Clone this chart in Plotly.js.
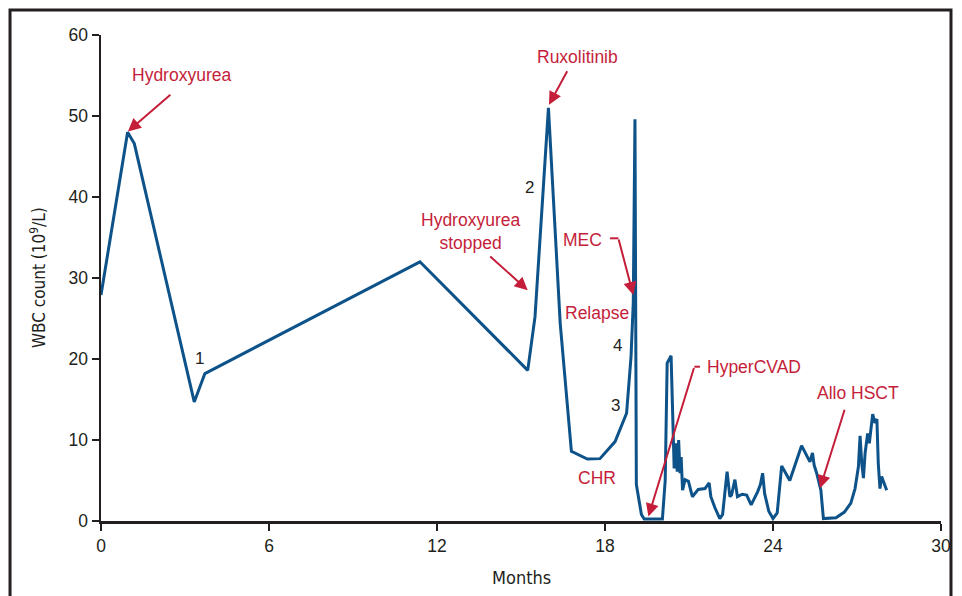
<!DOCTYPE html>
<html>
<head>
<meta charset="utf-8">
<script src="https://cdn.plot.ly/plotly-3.0.1.min.js"></script>
<style>html,body{margin:0;padding:0;background:#fff;}#chart{width:962px;height:596px;}</style>
</head>
<body>
<div id="chart"></div>
<script>
// Months since diagnosis
const months = [0, 0.95, 1.19, 3.33, 3.71, 11.39, 15.24, 15.5, 15.98, 16.4, 16.8, 17.37, 17.82, 18.36, 18.77, 18.93, 19.01, 19.07, 19.12, 19.2, 19.3, 19.4, 20.05, 20.15, 20.22, 20.36, 20.42, 20.47, 20.53, 20.58, 20.63, 20.68, 20.72, 20.77, 20.86, 20.98, 21.12, 21.33, 21.57, 21.72, 21.78, 21.93, 22.1, 22.2, 22.36, 22.46, 22.52, 22.64, 22.73, 22.9, 23.06, 23.22, 23.45, 23.55, 23.63, 23.7, 23.85, 24.0, 24.15, 24.31, 24.6, 25.02, 25.32, 25.41, 25.47, 25.56, 25.71, 25.8, 26.25, 26.55, 26.78, 26.93, 27.05, 27.11, 27.17, 27.23, 27.29, 27.38, 27.44, 27.56, 27.64, 27.71, 27.76, 27.82, 27.88, 28.06];
// WBC count (10^9/L)
const wbc = [27.9, 48.0, 46.6, 14.7, 18.2, 32.0, 18.6, 25.2, 51.0, 24.4, 8.6, 7.65, 7.7, 9.8, 13.3, 20.3, 27.0, 49.6, 4.5, 2.6, 0.8, 0.25, 0.25, 5.0, 19.5, 20.4, 12.0, 6.5, 9.6, 6.1, 10.0, 5.9, 7.9, 3.8, 5.1, 4.9, 3.0, 3.9, 4.0, 4.7, 3.0, 1.6, 0.3, 0.8, 6.1, 3.0, 3.2, 5.1, 3.0, 3.3, 3.2, 2.0, 3.6, 4.5, 5.9, 3.4, 1.2, 0.3, 1.0, 6.8, 5.0, 9.3, 7.3, 8.4, 6.9, 5.9, 3.8, 0.3, 0.4, 1.1, 2.2, 4.0, 6.7, 10.5, 7.1, 5.3, 8.4, 10.8, 9.6, 13.2, 12.1, 12.6, 7.1, 4.0, 5.5, 3.8];

const xTicks = [0, 6, 12, 18, 24, 30];
const yTicks = [0, 10, 20, 30, 40, 50, 60];

// Event labels (red)
const eventLabels = ['Hydroxyurea', 'Ruxolitinib', 'Hydroxyurea<br>stopped', 'MEC', 'Relapse', 'CHR', 'HyperCVAD', 'Allo HSCT'];
const eventX = [2.89, 17.0, 13.18, 17.21, 17.71, 17.71, 23.32, 27.04];
const eventY = [55.1, 57.3, 35.8, 34.7, 25.7, 5.3, 19.0, 15.8];
// Arrow tips for events with arrows
const arrowTipX = [0.96, 16.0, 15.24, 19.01, 19.55, 25.68];
const arrowTipY = [48.1, 51.4, 28.5, 27.9, 0.55, 4.04];
const arrowTailDX = [44, 19, -39, -15, 46, 25];
const arrowTailDY = [-38, -35, -35, -57, -150, -80];
// Phase markers (black)
const phaseLabels = ['1', '2', '3', '4'];
const phaseX = [3.5, 15.32, 18.36, 18.43];
const phaseY = [20.1, 41.2, 14.3, 21.7];

const red = '#c41e3a';
const ink = '#231f20';

const annotations = [];
eventLabels.forEach((t, i) => annotations.push({
  x: eventX[i], y: eventY[i], xref: 'x', yref: 'y', text: t, showarrow: false,
  font: {family: 'Liberation Sans, Arial, sans-serif', size: 17.5, color: red},
  xanchor: 'center', yanchor: 'middle', align: 'center'
}));
phaseLabels.forEach((t, i) => annotations.push({
  x: phaseX[i], y: phaseY[i], xref: 'x', yref: 'y', text: t, showarrow: false,
  font: {family: 'Liberation Sans, Arial, sans-serif', size: 17, color: ink},
  xanchor: 'center', yanchor: 'middle'
}));
arrowTipX.forEach((x, i) => annotations.push({
  x: x, y: arrowTipY[i], xref: 'x', yref: 'y', text: '', showarrow: true,
  ax: arrowTailDX[i], ay: arrowTailDY[i], arrowhead: 2, arrowsize: 1.3,
  arrowwidth: 2, arrowcolor: red, standoff: 0, startstandoff: 0
}));
const titleStart = annotations.length;
annotations.push({
  x: -0.075, y: 0.5, xref: 'paper', yref: 'paper', text: 'WBC count (10<sup>9</sup>/L)',
  textangle: -90, showarrow: false, xanchor: 'center', yanchor: 'middle',
  font: {family: 'DejaVu Sans Condensed, DejaVu Sans, sans-serif', size: 17, color: ink}
});
annotations.push({
  x: 0.5, y: -0.117, xref: 'paper', yref: 'paper', text: 'Months',
  showarrow: false, xanchor: 'center', yanchor: 'middle',
  font: {family: 'DejaVu Sans Condensed, DejaVu Sans, sans-serif', size: 18, color: ink}
});

const shapes = [
  {type: 'rect', xref: 'paper', yref: 'paper', x0: -0.1083, x1: 1.0119, y0: -0.25, y1: 1.0514,
   line: {color: ink, width: 3}, fillcolor: 'rgba(0,0,0,0)'},
  {type: 'line', xref: 'x', yref: 'y', x0: 18.18, x1: 18.48, y0: 34.9, y1: 34.9, line: {color: red, width: 2}},
  {type: 'line', xref: 'x', yref: 'y', x0: 21.19, x1: 21.39, y0: 19.05, y1: 19.05, line: {color: red, width: 2}}
];

const trace = {
  x: months, y: wbc, type: 'scatter', mode: 'lines',
  line: {color: '#0d5289', width: 3}, cliponaxis: false, hoverinfo: 'skip'
};

const layout = {
  width: 962, height: 596,
  margin: {l: 101, r: 21, t: 35, b: 75},
  paper_bgcolor: '#ffffff', plot_bgcolor: '#ffffff',
  showlegend: false,
  xaxis: {
    range: [0, 30], tickvals: xTicks, ticktext: xTicks.map(String),
    showgrid: false, zeroline: false, showline: true, linecolor: ink, linewidth: 2.5,
    ticks: 'outside', ticklen: 7, tickwidth: 2, tickcolor: ink,
    tickfont: {family: 'Liberation Sans, Arial, sans-serif', size: 17.5, color: ink},
    fixedrange: true
  },
  yaxis: {
    range: [0, 60], tickvals: yTicks, ticktext: yTicks.map(String),
    showgrid: false, zeroline: false, showline: true, linecolor: ink, linewidth: 2.5,
    ticks: 'outside', ticklen: 7, tickwidth: 2, tickcolor: ink,
    tickfont: {family: 'Liberation Sans, Arial, sans-serif', size: 17.5, color: ink},
    fixedrange: true
  },
  annotations: annotations,
  shapes: shapes
};

Plotly.newPlot('chart', [trace], layout, {displayModeBar: false, staticPlot: true}).then(gd => {
  [titleStart, titleStart + 1].forEach(idx => {
    gd.querySelectorAll('g.annotation[data-index="' + idx + '"] text').forEach(t => {
      t.style.fontStretch = 'condensed';
    });
  });
});
</script>
</body>
</html>
